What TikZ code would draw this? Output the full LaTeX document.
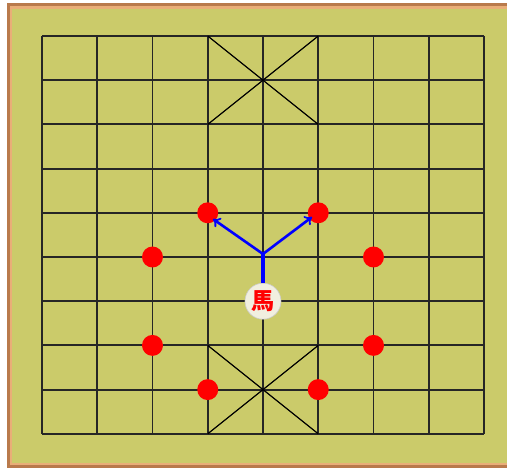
\documentclass[tikz,border=0pt]{standalone}
\usepackage{fontspec}
\newfontfamily\cjk{Noto Sans CJK TC}
\usetikzlibrary{arrows.meta}
\definecolor{tabuleiro}{HTML}{CBCB6A}
\definecolor{moldura}{HTML}{B97A4C}
\definecolor{molduraclara}{HTML}{E9AE78}
\definecolor{peca}{HTML}{F1EFDF}
\tikzset{
  linha/.style={black!85,line width=1.9pt},
  alvo/.style={circle,fill=red,inner sep=0pt,minimum size=21pt},
  seta/.style={blue,line width=2.6pt,-{To[length=7pt,width=11pt,line width=1.8pt]}}
}
\begin{document}
\begin{tikzpicture}[x=1pt,y=-1pt]
    \useasboundingbox (0,0) rectangle (507,468);
    \clip (0,0) rectangle (507,468);
    % Moldura do tabuleiro
    \fill[moldura] (7,3) rectangle (530,468);
    \fill[molduraclara] (10,6) rectangle (530,465);
    \fill[tabuleiro] (12,9) rectangle (530,463);
    % Linhas do tabuleiro
    \foreach \i in {0,...,8}
        \draw[linha] (42+55.25*\i,36) -- (42+55.25*\i,434);
    \foreach \j in {0,...,9}
        \draw[linha] (42,36+44.2*\j) -- (484,36+44.2*\j);
    % Palacios
    \draw[black,line width=1.2pt] (207.75,36) -- (318.25,124.4) (318.25,36) -- (207.75,124.4);
    \draw[black,line width=1.2pt] (207.75,345.4) -- (318.25,433.8) (318.25,345.4) -- (207.75,433.8);
    % Destinos do cavalo
    \node[alvo] (a1) at (207.75,212.8) {};
    \node[alvo] (a2) at (318.25,212.8) {};
    \node[alvo] (a3) at (152.5,257) {};
    \node[alvo] (a4) at (373.5,257) {};
    \node[alvo] (a5) at (152.5,345.4) {};
    \node[alvo] (a6) at (373.5,345.4) {};
    \node[alvo] (a7) at (207.75,389.6) {};
    \node[alvo] (a8) at (318.25,389.6) {};
    % Cavalo
    \node[circle,fill=peca,draw=gray!40,line width=0.6pt,minimum size=36pt,inner sep=0pt,
          text=red,font=\cjk\bfseries\fontsize{23pt}{23pt}\selectfont] (cavalo) at (263,301.2) {馬};
    % Movimento
    \coordinate (meio) at (263,254);
    \coordinate (esq) at (213,219);
    \coordinate (dir) at (312,217);
    \draw[blue,line width=4.5pt] (cavalo.north) -- (meio);
    \draw[seta] (meio) -- (esq);
    \draw[seta] (meio) -- (dir);
\end{tikzpicture}
\end{document}
